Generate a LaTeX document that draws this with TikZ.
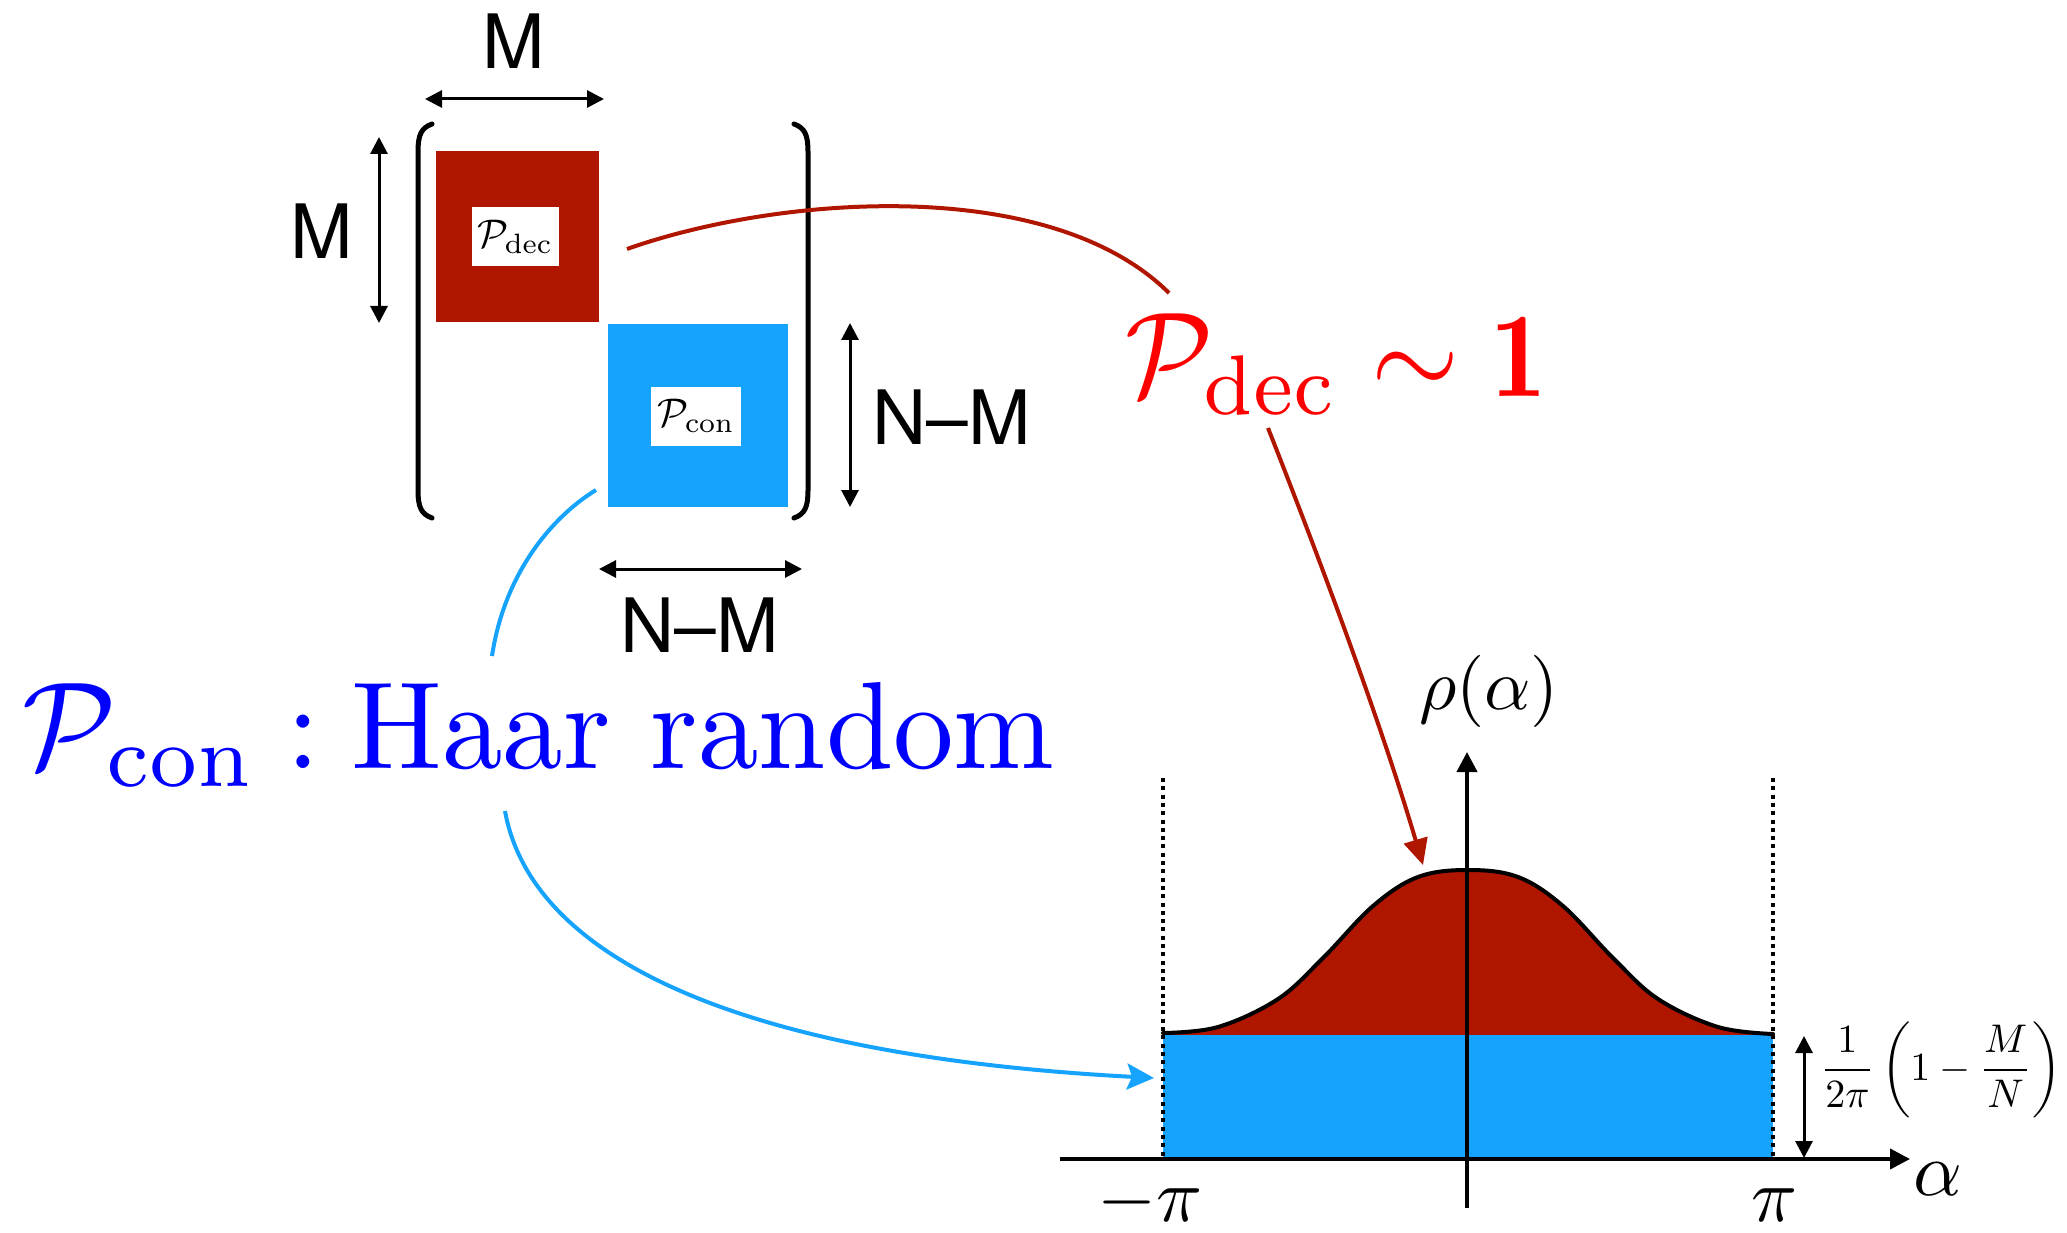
\documentclass[tikz,border=0pt]{standalone}
\usepackage{amsmath}
\usepackage{fontspec}
\newfontfamily\helv{TeX Gyre Heros}
\usetikzlibrary{arrows.meta}
\definecolor{decred}{RGB}{176,21,0}
\definecolor{conblue}{RGB}{22,163,254}
\definecolor{labred}{RGB}{255,0,0}
\definecolor{labblue}{RGB}{0,0,255}
\begin{document}
\begin{tikzpicture}[x=1pt,y=-1pt,
  dimarrow/.style={line width=3pt,{Triangle[length=17pt,width=17pt]}-{Triangle[length=17pt,width=17pt]}},
  sanslab/.style={font=\helv\fontsize{75}{80}\selectfont,inner sep=0pt},
  block/.style={inner sep=0pt,draw=none},
  tag/.style={fill=white,inner sep=0pt,scale=4,transform shape},
  bracket/.style={line width=5pt,line cap=round},
  axis/.style={line width=4pt,-{Triangle[length=20pt,width=20pt]}},
  mathlab/.style={inner sep=0pt,scale=7.6,transform shape,anchor=base},
  dots/.style={line width=4pt,dash pattern=on 4pt off 4.3pt}
]
\useasboundingbox (0,0) rectangle (2067,1233);

% matrix blocks
\node[block,fill=decred,minimum width=163pt,minimum height=171pt] (dec) at (517.5,236.5) {};
\node[block,fill=conblue,minimum width=180pt,minimum height=183pt] (con) at (698,415.5) {};
\node[tag,minimum width=21.75pt,minimum height=14.75pt] (dectag) at (515,237) {$\mathcal{P}_{\mathrm{dec}}$};
\node[tag,minimum width=22.5pt,minimum height=14.75pt] (contag) at (696,416) {$\mathcal{P}_{\mathrm{con}}$};

% brackets
\draw[bracket] (432,124) .. controls (421,128) and (418,135) .. (418,152) -- (418,490) .. controls (418,507) and (421,514) .. (432,518);
\draw[bracket] (794,124) .. controls (805,128) and (808,135) .. (808,152) -- (808,490) .. controls (808,507) and (805,514) .. (794,518);

% dimension arrows
\coordinate (tA) at (425,99); \coordinate (tB) at (604,99);
\coordinate (lA) at (379,137); \coordinate (lB) at (379,323);
\coordinate (rA) at (850,323); \coordinate (rB) at (850,507);
\coordinate (bA) at (599,569); \coordinate (bB) at (802,569);
\draw[dimarrow] (tA) -- (tB);
\draw[dimarrow] (lA) -- (lB);
\draw[dimarrow] (rA) -- (rB);
\draw[dimarrow] (bA) -- (bB);
\node[sanslab] (mtop) at (514,41) {M};
\node[sanslab] (mleft) at (322,231) {M};
\node[sanslab] (nmright) at (952,417) {N–M};
\node[sanslab] (nmbot) at (700,625) {N–M};

% plot
\fill[decred] (1163,1035) -- plot[smooth,tension=0.6] coordinates {(1163,1033) (1218,1027) (1278,999) (1323,958) (1373,906) (1418,877) (1468,870) (1518,877) (1563,906) (1613,958) (1658,999) (1718,1027) (1773,1034)} -- (1773,1035) -- cycle;
\fill[conblue] (1163,1035) rectangle (1773,1159);
\draw[line width=4pt,line cap=round] plot[smooth,tension=0.6] coordinates {(1163,1033) (1218,1027) (1278,999) (1323,958) (1373,906) (1418,877) (1468,870) (1518,877) (1563,906) (1613,958) (1658,999) (1718,1027) (1773,1034)};
\coordinate (dlt) at (1163,778); \coordinate (dlb) at (1163,1159);
\coordinate (drt) at (1773,778); \coordinate (drb) at (1773,1159);
\draw[dots] (dlt) -- (dlb);
\draw[dots] (drt) -- (drb);
\coordinate (xl) at (1060,1159); \coordinate (xr) at (1910,1159);
\coordinate (yb) at (1467,1208); \coordinate (yt) at (1467,752);
\draw[axis] (xl) -- (xr);
\draw[axis] (yb) -- (yt);
\coordinate (hA) at (1804,1036); \coordinate (hB) at (1804,1158);
\draw[dimarrow] (hA) -- (hB);
\node[mathlab,scale=0.95] (rho) at (1489,709) {$\rho(\alpha)$};
\node[mathlab] (alab) at (1938,1195) {$\alpha$};
\node[mathlab] (mpi) at (1150,1221) {$-\pi$};
\node[mathlab] (ppi) at (1775,1221) {$\pi$};
\node[inner sep=0pt,scale=4,transform shape] (height) at (1941,1070) {$\displaystyle\frac{1}{2\pi}\left(1-\frac{M}{N}\right)$};

% big labels
\node[inner sep=0pt,anchor=base west,text=labred,xscale=11.3,yscale=12.1,transform shape] (declab) at (1123,396) {$\mathcal{P}_{\mathrm{dec}}\sim\mathbf{1}$};
\node[inner sep=0pt,anchor=base west,text=labblue,xscale=12.1,yscale=12.4,transform shape] (conlab) at (20,768) {$\mathcal{P}_{\mathrm{con}}$\hspace{2.4pt}:\hspace{2.6pt}Haar random};

% connectors
\coordinate (r1) at (627,249); \coordinate (r2) at (1169,293);
\coordinate (r3) at (1268,428); \coordinate (peak) at (1423,865);
\draw[decred,line width=4pt] (r1) .. controls (780,195) and (1050,175) .. (r2);
\draw[decred,line width=4pt,-{Triangle[length=26pt,width=24pt]}] (r3) .. controls (1320,560) and (1380,720) .. (peak);
\coordinate (b1) at (596,490); \coordinate (b2) at (492,656);
\coordinate (b3) at (505,811); \coordinate (edge) at (1154,1078);
\draw[conblue,line width=4pt] (b1) .. controls (555,515) and (505,570) .. (b2);
\draw[conblue,line width=4pt,-{Stealth[length=27pt,width=26pt,inset=5pt]}] (b3) .. controls (530,950) and (720,1055) .. (edge);
\end{tikzpicture}
\end{document}
